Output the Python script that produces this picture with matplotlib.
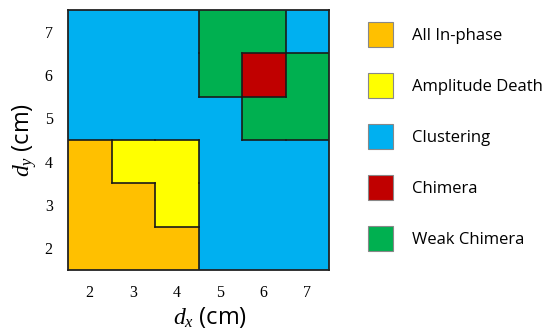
import numpy as np
import matplotlib
matplotlib.use("Agg")
import matplotlib.pyplot as plt
from matplotlib.colors import ListedColormap
from matplotlib.patches import Patch

# state map, rows are dy (bottom to top), columns are dx
dx = [2, 3, 4, 5, 6, 7]
dy = [2, 3, 4, 5, 6, 7]
labels = ["All In-phase", "Amplitude Death", "Clustering", "Chimera", "Weak Chimera"]
colors = ["#FFC000", "#FFFF00", "#00B0F0", "#C00000", "#00B050"]
# 0 in-phase, 1 amplitude death, 2 clustering, 3 chimera, 4 weak chimera
row_dy2 = [0, 0, 0, 2, 2, 2]
row_dy3 = [0, 0, 1, 2, 2, 2]
row_dy4 = [0, 1, 1, 2, 2, 2]
row_dy5 = [2, 2, 2, 2, 4, 4]
row_dy6 = [2, 2, 2, 4, 3, 4]
row_dy7 = [2, 2, 2, 4, 4, 2]

state = np.array([row_dy2, row_dy3, row_dy4, row_dy5, row_dy6, row_dy7])

plt.rcParams["mathtext.fontset"] = "custom"
plt.rcParams["mathtext.it"] = "Liberation Serif:italic"
plt.rcParams["mathtext.rm"] = "Liberation Serif"

fig = plt.figure(figsize=(5.53, 3.31), dpi=100)
ax = fig.add_axes([68 / 553, 1 - 270 / 331, 261 / 553, 260 / 331])

xe = np.arange(dx[0] - 0.5, dx[-1] + 1)
ye = np.arange(dy[0] - 0.5, dy[-1] + 1)
ax.pcolormesh(xe, ye, state, cmap=ListedColormap(colors), vmin=-0.5, vmax=4.5)

# outline the borders between different states
for i in range(len(dy)):
    for j in range(len(dx)):
        if j + 1 < len(dx) and state[i, j] != state[i, j + 1]:
            ax.plot([xe[j + 1]] * 2, [ye[i], ye[i + 1]], color="#1a1a1a", lw=1.2,
                    solid_capstyle="projecting")
        if i + 1 < len(dy) and state[i, j] != state[i + 1, j]:
            ax.plot([xe[j], xe[j + 1]], [ye[i + 1]] * 2, color="#1a1a1a", lw=1.2,
                    solid_capstyle="projecting")

ax.set_xlim(xe[0], xe[-1])
ax.set_ylim(ye[0], ye[-1])
ax.set_xticks(dx)
ax.set_yticks(dy)
ax.tick_params(length=0, pad=11, labelsize=11.5)
for t in ax.get_xticklabels() + ax.get_yticklabels():
    t.set_fontfamily("Liberation Serif")
for s in ax.spines.values():
    s.set_linewidth(1.3)
    s.set_color("#222222")

ax.set_xlabel(r"$d_x$ (cm)", fontsize=17, family="Open Sans", labelpad=3, x=0.545)
ax.set_ylabel(r"$d_y$ (cm)", fontsize=17, family="Open Sans", labelpad=4)

handles = [Patch(facecolor=c, edgecolor="#888888", lw=0.8) for c in colors]
leg = fig.legend(handles, labels, loc="upper left", bbox_to_anchor=(368 / 553, 1 - 22 / 331),
                 frameon=False, handlelength=1.5, handleheight=1.93,
                 labelspacing=1.56, handletextpad=1.14, borderaxespad=0, borderpad=0,
                 prop={"family": "Open Sans", "size": 12})

fig.savefig("out.png", dpi=100)
